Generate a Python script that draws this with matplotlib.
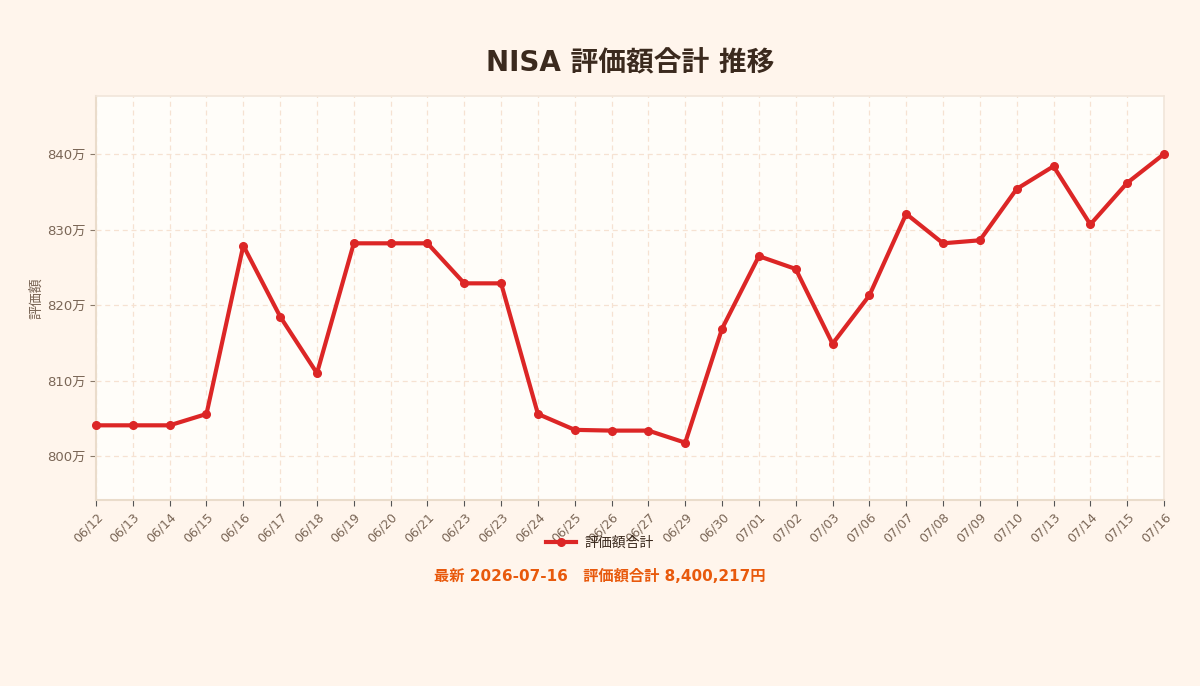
import matplotlib
matplotlib.use("Agg")
import matplotlib.pyplot as plt
from matplotlib.ticker import FuncFormatter
from matplotlib.lines import Line2D

plt.rcParams['font.family'] = ['DejaVu Sans', 'Noto Sans CJK JP']

# dates (x labels) and total value in 万円
dates = ['06/12', '06/13', '06/14', '06/15', '06/16', '06/17', '06/18', '06/19',
         '06/20', '06/21', '06/23', '06/23', '06/24', '06/25', '06/26', '06/27',
         '06/29', '06/30', '07/01', '07/02', '07/03', '07/06', '07/07', '07/08',
         '07/09', '07/10', '07/13', '07/14', '07/15', '07/16']
values = [804.1, 804.1, 804.1, 805.6, 827.9, 818.5, 811.0, 828.2,
          828.2, 828.2, 822.9, 822.9, 805.6, 803.5, 803.4, 803.4,
          801.8, 816.9, 826.5, 824.8, 814.9, 821.3, 832.1, 828.2,
          828.6, 835.4, 838.4, 830.7, 836.2, 840.0217]
yticks = [800, 810, 820, 830, 840]

bg = '#FFF5EC'
red = '#DC2626'
brown = '#3B2A1E'
tickc = '#7A6656'

fig = plt.figure(figsize=(12, 6.86), dpi=100, facecolor=bg)
ax = fig.add_axes([0.08, 0.271, 0.89, 0.589])
ax.set_facecolor('#FFFDF9')

x = list(range(len(values)))
ax.plot(x, values, color=red, lw=3, marker='o', ms=5.5, zorder=3, clip_on=False)

ax.set_xlim(0, len(values) - 1)
ax.set_ylim(794.2, 847.7)
ax.set_xticks(x)
ax.set_xticklabels(dates, rotation=45, ha='right', rotation_mode='anchor')
ax.set_yticks(yticks)
ax.yaxis.set_major_formatter(FuncFormatter(lambda v, p: f'{v:.0f}万'))
ax.tick_params(axis='x', labelsize=9, labelcolor=tickc, length=4, color='#555555')
ax.tick_params(axis='y', labelsize=9.5, labelcolor=tickc, length=4, color='#8a7a6a')

ax.grid(True, ls=(0, (4, 3)), color='#F6E2D2', lw=0.9)
for s in ['left', 'bottom']:
    ax.spines[s].set_color('#EADCCB')
    ax.spines[s].set_linewidth(1.5)
for s in ['top', 'right']:
    ax.spines[s].set_color('#F1E6DA')
    ax.spines[s].set_linewidth(1.2)

ax.set_ylabel('評価額', color=tickc, fontsize=10, labelpad=3)

fig.text(0.525, 0.907, 'NISA 評価額合計 推移', ha='center', va='center',
         fontsize=20, fontweight='bold', color=brown)

handle = Line2D([], [], color=red, lw=3, marker='o', ms=5.5)
fig.legend([handle], ['評価額合計'], loc='center', bbox_to_anchor=(0.5, 0.209),
           frameon=False, fontsize=10, labelcolor=brown, handlelength=2.2,
           handletextpad=0.6)

fig.text(0.5, 0.16, '最新 2026-07-16\u3000評価額合計 8,400,217円', ha='center',
         va='center', fontsize=11, fontweight='bold', color='#E8590C')

fig.savefig('out.png', dpi=100, facecolor=bg)
